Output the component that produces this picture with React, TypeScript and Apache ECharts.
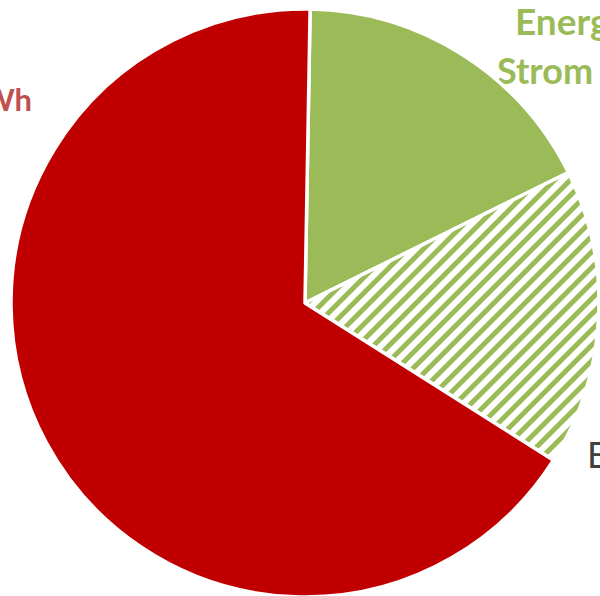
import { useEffect, useRef } from "react";
import * as echarts from "echarts";

// Slice shares of the total (per cent), drawn clockwise from the top
const sliceNames = ["Energie aus Strom", "Eigenerzeugung", "Wärme"];
const sliceValues = [17.4, 16.3, 66.3];

const GREEN = "#9BBB59";
const RED = "#C00000";

export default function App() {
  const ref = useRef<HTMLDivElement>(null);

  useEffect(() => {
    if (!ref.current) return;
    const chart = echarts.init(ref.current, null, { renderer: "svg" });

    const sliceStyles = [
      { color: GREEN },
      {
        color: "#FFFFFF",
        // diagonal green hatching on white
        decal: {
          symbol: "rect",
          symbolSize: 1,
          color: GREEN,
          backgroundColor: "#FFFFFF",
          dashArrayX: [1, 0],
          dashArrayY: [4.8, 5.5],
          rotation: -Math.PI / 4,
        },
      },
      { color: RED },
    ];

    chart.setOption({
      animation: false,
      backgroundColor: "#FFFFFF",
      series: [
        {
          type: "pie",
          center: [305, 303],
          radius: 294,
          startAngle: 89,
          clockwise: true,
          silent: true,
          avoidLabelOverlap: false,
          label: { show: false },
          labelLine: { show: false },
          itemStyle: { borderColor: "#FFFFFF", borderWidth: 3.5 },
          data: sliceNames.map((name, i) => ({
            name,
            value: sliceValues[i],
            itemStyle: sliceStyles[i],
          })),
        },
      ],
      graphic: [
        {
          type: "text",
          left: 515,
          top: 2,
          style: {
            text: "Energie",
            fill: GREEN,
            font: "bold 37px Lato",
          },
        },
        {
          type: "text",
          left: 497,
          top: 52,
          style: {
            text: "Strom",
            fill: GREEN,
            font: "bold 36px Lato",
          },
        },
        {
          type: "text",
          right: 568,
          top: 83,
          style: {
            text: "TWh",
            fill: "#C0504D",
            font: "bold 31px Lato",
          },
        },
        {
          type: "text",
          left: 587,
          top: 436,
          style: {
            text: "E",
            fill: "#404040",
            font: "36px Lato",
          },
        },
      ],
    });

    return () => chart.dispose();
  }, []);

  return (
    <div
      ref={ref}
      style={{ position: "fixed", left: 0, top: 0, width: 600, height: 596 }}
    />
  );
}
